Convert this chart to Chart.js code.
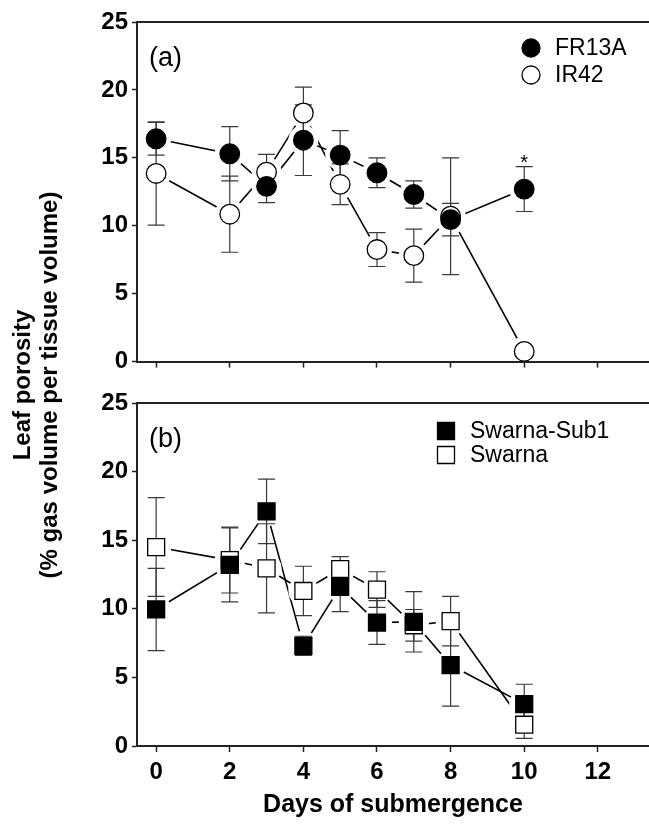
<!DOCTYPE html>
<html>
<head>
<meta charset="utf-8">
<script src="https://cdn.jsdelivr.net/npm/chart.js@4.4.1/dist/chart.umd.min.js"></script>
<style>
  body { margin: 0; background: #fff; width: 649px; height: 825px; position: relative; overflow: hidden; }
  #topChart { position: absolute; left: 0; top: 0; }
  #botChart { position: absolute; left: 0; top: 380px; }
  #ytitle {
    position: absolute; left: -212px; top: 355px; width: 500px; height: 60px;
    transform: rotate(-90deg); text-align: center;
    font: bold 24px "Liberation Sans", Arial, sans-serif; line-height: 27px; color: #000;
  }
</style>
</head>
<body>
<canvas id="topChart" width="649" height="380"></canvas>
<canvas id="botChart" width="649" height="445"></canvas>
<div id="ytitle">Leaf porosity<br>(% gas volume per tissue volume)</div>
<script>
// days sampled
const days = [0, 2, 3, 4, 5, 6, 7, 8, 10];

// panel (a)
const fr13a    = [16.4, 15.3, 12.9, 16.3, 15.2, 13.9, 12.3, 10.45, 12.7];
const fr13aErr = [1.2, 2.0, 1.2, 2.6, 1.8, 1.1, 1.0, 1.2, 1.65];
const ir42     = [13.85, 10.85, 13.95, 18.3, 13.05, 8.25, 7.8, 10.7, 0.75];
const ir42Err  = [3.8, 2.8, 1.3, 1.9, 1.5, 1.25, 1.95, 4.3, 0];

// panel (b)
const sub1      = [9.95, 13.2, 17.1, 7.3, 11.6, 9.0, 9.05, 5.9, 3.05];
const sub1Err   = [3.0, 2.7, 2.35, 0.7, 1.8, 1.6, 2.2, 3.0, 1.45];
const swarna    = [14.5, 13.55, 12.95, 11.3, 12.9, 11.4, 8.8, 9.1, 1.55];
const swarnaErr = [3.6, 2.4, 3.25, 1.8, 0.9, 1.3, 1.15, 1.8, 1.0];

const xTicks = [0, 2, 4, 6, 8, 10, 12];
const yTicks = [0, 5, 10, 15, 20, 25];

const FONT = '"Liberation Sans", Arial, sans-serif';
const AXIS = '#222';

const pts = (vals) => days.map((d, i) => ({ x: d, y: vals[i] }));

function buildDatasets(series) {
  const out = [];
  series.forEach(s => {
    out.push({ role: 'line', data: pts(s.values), borderColor: '#000', borderWidth: 1.6,
      pointRadius: 0, pointHoverRadius: 0, fill: false, tension: 0, order: 3 });
  });
  series.forEach(s => {
    out.push({ role: 'halo', data: pts(s.values), showLine: false, pointRadius: 15,
      pointStyle: 'circle', pointBackgroundColor: '#fff', pointBorderWidth: 0,
      clip: { left: 0, top: 0, right: 0, bottom: -1.5 }, order: 2 });
  });
  series.forEach(s => {
    out.push({ role: 'marker', label: s.label, data: pts(s.values), errs: s.errs, showLine: false,
      pointStyle: s.style, pointRadius: s.style === 'rect' ? 12 : 9.8,
      pointBackgroundColor: s.fill, pointBorderColor: '#000', pointBorderWidth: 1.3, order: 1 });
  });
  return out;
}

const errorBars = {
  id: 'errorBars',
  beforeDatasetsDraw(chart) { chart.$ebDone = false; },
  beforeDatasetDraw(chart, args) {
    const ds = chart.data.datasets[args.index];
    if (ds.role !== 'marker' || chart.$ebDone) return;
    chart.$ebDone = true;
    const { ctx, scales: { x, y } } = chart;
    ctx.save();
    ctx.strokeStyle = '#3a3a3a';
    ctx.lineWidth = 1.2;
    chart.data.datasets.filter(d => d.role === 'marker').forEach(d => {
      d.data.forEach((p, i) => {
        const e = d.errs[i];
        if (!e) return;
        const px = x.getPixelForValue(p.x);
        const y1 = y.getPixelForValue(p.y + e), y2 = y.getPixelForValue(p.y - e);
        ctx.beginPath();
        ctx.moveTo(px, y1); ctx.lineTo(px, y2);
        ctx.moveTo(px - 8.5, y1); ctx.lineTo(px + 8.5, y1);
        ctx.moveTo(px - 8.5, y2); ctx.lineTo(px + 8.5, y2);
        ctx.stroke();
      });
    });
    ctx.restore();
  }
};

const framePlugin = {
  id: 'frame',
  afterDraw(chart, args, opts) {
    const { ctx, chartArea: a } = chart;
    ctx.save();
    ctx.strokeStyle = AXIS;
    ctx.lineWidth = 2;
    ctx.beginPath();
    ctx.moveTo(a.left, a.top); ctx.lineTo(a.right, a.top);
    ctx.stroke();
    // panel tag
    ctx.fillStyle = '#000';
    ctx.font = '27px ' + FONT;
    ctx.textBaseline = 'middle';
    ctx.textAlign = 'left';
    ctx.fillText(opts.tag, a.left + 12, a.top + 37);
    // legend
    ctx.font = '23px ' + FONT;
    opts.legend.forEach((it, k) => {
      const cy = a.top + opts.legendY + k * opts.legendGap;
      const cx = opts.legendX;
      ctx.lineWidth = 1.3;
      ctx.strokeStyle = '#000';
      ctx.fillStyle = it.fill;
      ctx.beginPath();
      if (it.style === 'rect') ctx.rect(cx - 8.5, cy - 8.5, 17, 17);
      else ctx.arc(cx, cy, 9, 0, Math.PI * 2);
      ctx.fill(); ctx.stroke();
      ctx.fillStyle = '#000';
      ctx.fillText(it.label, cx + 24, cy + 1);
    });
    if (opts.star) {
      const { x, y } = chart.scales;
      ctx.font = '20px ' + FONT;
      ctx.textAlign = 'center';
      ctx.fillText('*', x.getPixelForValue(opts.star.x), y.getPixelForValue(opts.star.y) - 3);
    }
    ctx.restore();
  }
};

function makePanel(id, series, cfg) {
  const ctx = document.getElementById(id).getContext('2d');
  return new Chart(ctx, {
    type: 'line',
    data: { datasets: buildDatasets(series) },
    options: {
      responsive: false,
      animation: false,
      events: [],
      layout: { padding: { top: cfg.padTop, left: 0, right: 0, bottom: 0 }, autoPadding: false },
      plugins: {
        legend: { display: false },
        tooltip: { enabled: false },
        frame: { tag: cfg.tag, legend: series, legendX: cfg.legendX, legendY: cfg.legendY,
                 legendGap: cfg.legendGap, star: cfg.star }
      },
      scales: {
        x: {
          type: 'linear', min: -0.52, max: 13.39,
          afterBuildTicks: s => { s.ticks = xTicks.map(v => ({ value: v })); },
          afterFit: s => { s.height = cfg.xHeight; },
          grid: { drawOnChartArea: false, drawTicks: true, tickLength: 6, tickColor: AXIS, tickWidth: 1.5 },
          border: { color: AXIS, width: 2 },
          ticks: { display: cfg.showX, color: '#000', padding: 6, font: { family: FONT, size: 24, weight: 'bold' } },
          title: { display: cfg.showX, text: 'Days of submergence', color: '#000',
                   padding: { top: 0, bottom: 5 }, font: { family: FONT, size: 25, weight: 'bold' } }
        },
        y: {
          min: 0, max: 25,
          afterBuildTicks: s => { s.ticks = yTicks.map(v => ({ value: v })); },
          afterFit: s => { s.width = 137; },
          grid: { drawOnChartArea: false, drawTicks: true, tickLength: 5, tickColor: AXIS, tickWidth: 1.5 },
          border: { color: AXIS, width: 2 },
          ticks: { color: '#000', padding: 4, font: { family: FONT, size: 24, weight: 'bold' } }
        }
      }
    },
    plugins: [errorBars, framePlugin]
  });
}

makePanel('topChart', [
  { label: 'FR13A', values: fr13a, errs: fr13aErr, style: 'circle', fill: '#000' },
  { label: 'IR42', values: ir42, errs: ir42Err, style: 'circle', fill: '#fff' }
], { padTop: 22, xHeight: 15, showX: false, tag: '(a)', legendX: 531, legendY: 26, legendGap: 27,
     star: { x: 10, y: fr13a[8] + fr13aErr[8] } });

makePanel('botChart', [
  { label: 'Swarna-Sub1', values: sub1, errs: sub1Err, style: 'rect', fill: '#000' },
  { label: 'Swarna', values: swarna, errs: swarnaErr, style: 'rect', fill: '#fff' }
], { padTop: 23, xHeight: 79, showX: true, tag: '(b)', legendX: 446, legendY: 28, legendGap: 24 });
</script>
</body>
</html>
